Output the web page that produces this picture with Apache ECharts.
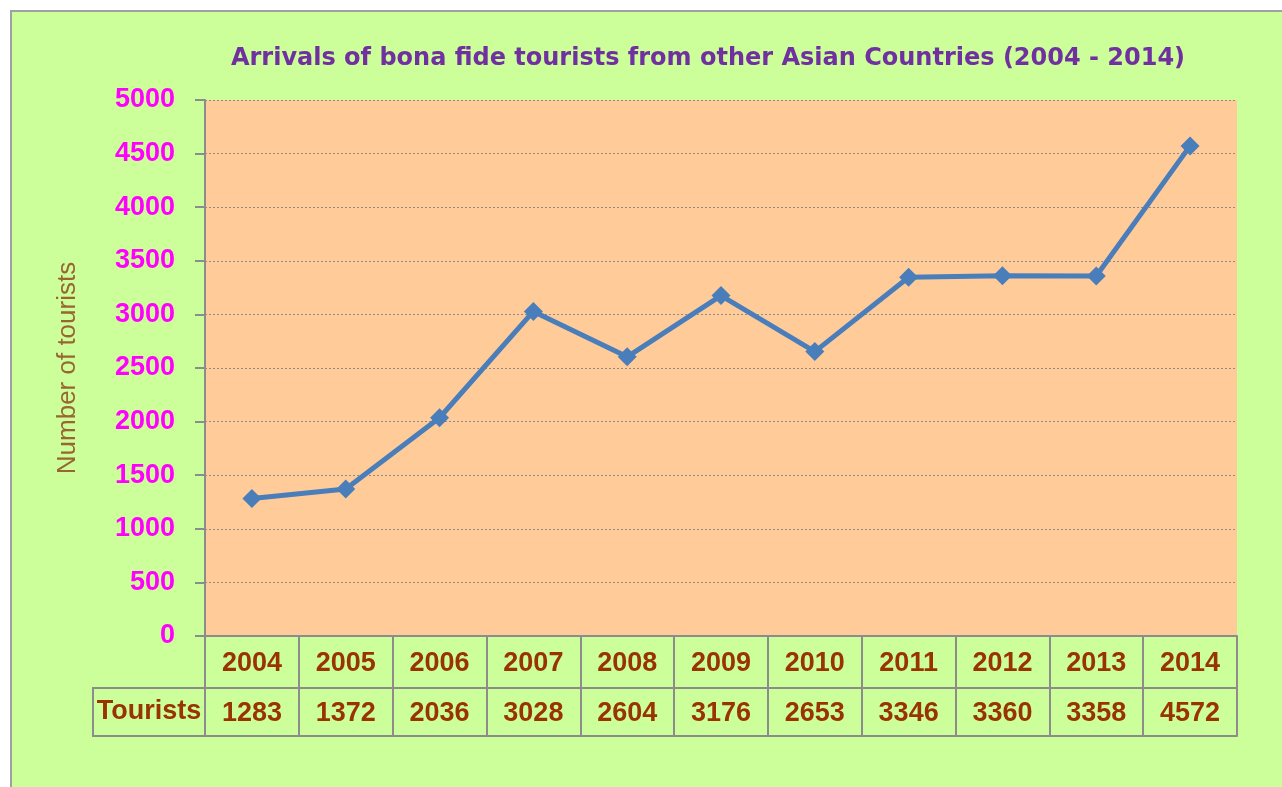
<!DOCTYPE html>
<html>
<head>
<meta charset="utf-8">
<script src="https://cdn.jsdelivr.net/npm/echarts@6/dist/echarts.min.js"></script>
<style>
  html, body { margin: 0; padding: 0; background: #fff; }
  #chart {
    position: absolute; left: 10px; top: 10px;
    width: 1270px; height: 775px;
    border-left: 2px solid #a0a0a0; border-top: 2px solid #a0a0a0;
  }
</style>
</head>
<body>
<div id="chart"></div>
<script>
const years = ['2004', '2005', '2006', '2007', '2008', '2009', '2010', '2011', '2012', '2013', '2014'];
const tourists = [1283, 1372, 2036, 3028, 2604, 3176, 2653, 3346, 3360, 3358, 4572];
const yTicks = { min: 0, max: 5000, interval: 500 };

const gridLine = '#8c8c8c';
const cellFont = { fontFamily: 'Liberation Sans', fontWeight: 'bold', fontSize: 27, color: '#993300' };

const chart = echarts.init(document.getElementById('chart'));

chart.setOption({
  backgroundColor: '#ccff99',
  animation: false,
  title: {
    text: 'Arrivals of bona fide tourists from other Asian Countries (2004 - 2014)',
    left: 691,
    textAlign: 'center',
    top: 30,
    textStyle: { fontFamily: 'DejaVu Sans', fontWeight: 'bold', fontSize: 24, color: '#7030a0' }
  },
  grid: {
    left: 193, right: 45, top: 88, bottom: 151,
    show: true, backgroundColor: '#ffcc99', borderWidth: 0
  },
  xAxis: [
    {
      type: 'category',
      data: years,
      boundaryGap: true,
      axisLine: { lineStyle: { color: gridLine, width: 2 } },
      axisTick: { show: true, interval: 0, length: 52, lineStyle: { color: gridLine, width: 2 } },
      axisLabel: { interval: 0, margin: 14, ...cellFont }
    },
    {
      type: 'category',
      data: tourists.map(String),
      position: 'bottom',
      offset: 52,
      boundaryGap: true,
      axisLine: { lineStyle: { color: gridLine, width: 2 } },
      axisTick: { show: true, interval: 0, length: 48, lineStyle: { color: gridLine, width: 2 } },
      axisLabel: { interval: 0, margin: 12, ...cellFont }
    },
    {
      type: 'category',
      data: years,
      position: 'bottom',
      offset: 100,
      axisLine: { lineStyle: { color: gridLine, width: 2 } },
      axisTick: { show: false },
      axisLabel: { show: false }
    }
  ],
  yAxis: {
    type: 'value',
    min: yTicks.min,
    max: yTicks.max,
    interval: yTicks.interval,
    name: 'Number of tourists',
    nameLocation: 'middle',
    nameGap: 124,
    nameTextStyle: { fontFamily: 'Liberation Sans', fontSize: 26, color: '#996633' },
    axisLine: { show: true, lineStyle: { color: gridLine, width: 2 } },
    axisTick: { show: true, length: 10, lineStyle: { color: gridLine, width: 2 } },
    axisLabel: {
      margin: 30, formatter: v => String(v),
      fontFamily: 'Liberation Sans', fontWeight: 'bold', fontSize: 27, color: '#ff00ff'
    },
    splitLine: { show: true, lineStyle: { color: gridLine, width: 1, type: [2, 2] } }
  },
  graphic: [
    {
      type: 'rect',
      shape: { x: 81, y: 676, width: 112, height: 48 },
      style: { fill: 'none', stroke: gridLine, lineWidth: 2 }
    },
    {
      type: 'text',
      x: 137, y: 700,
      style: { text: 'Tourists', align: 'center', verticalAlign: 'middle', font: 'bold 27px "Liberation Sans"', fill: '#993300' }
    }
  ],
  series: [{
    type: 'line',
    data: tourists,
    symbol: 'diamond',
    symbolSize: 19,
    lineStyle: { color: '#4a7ebb', width: 5 },
    itemStyle: { color: '#4a7ebb' }
  }]
});
</script>
</body>
</html>
